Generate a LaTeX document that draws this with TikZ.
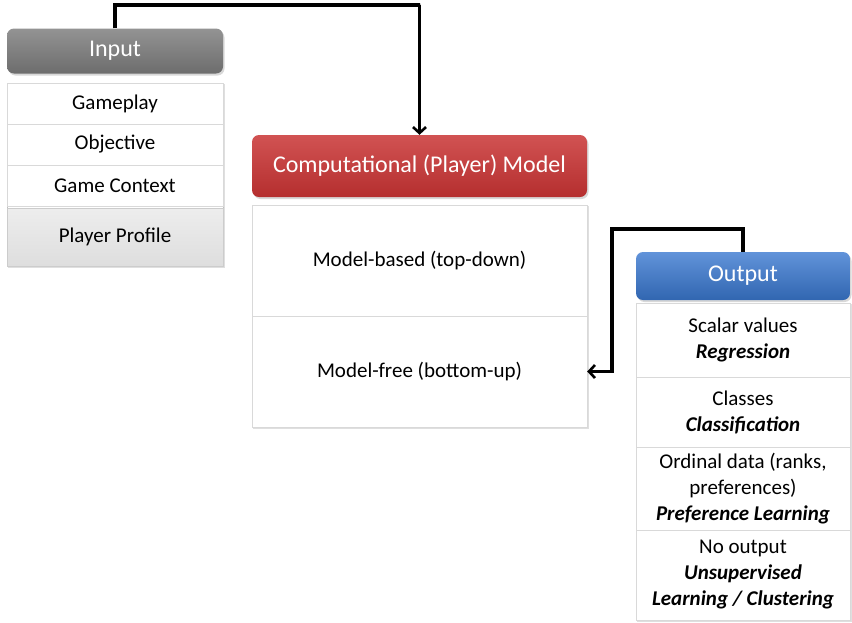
\documentclass[tikz,border=0pt]{standalone}
\usepackage{fontspec}
\setmainfont{Carlito}
\usetikzlibrary{arrows.meta,shadows,fit,backgrounds}
\definecolor{grayhead}{HTML}{808080}
\definecolor{redhead}{HTML}{C93434}
\definecolor{bluehead}{HTML}{3A78D0}
\newcommand{\headfont}{\fontsize{24}{29}\selectfont}
\newcommand{\rowfont}{\fontsize{21}{26}\selectfont}
\newcommand{\bi}[1]{\textbf{\textit{#1}}}

\begin{document}
\begin{tikzpicture}[x=1pt,y=-1pt,
  head/.style={rounded corners=7pt, text=white, font=\headfont, inner sep=0pt,
    drop shadow={shadow xshift=1.5pt, shadow yshift=-2pt, fill=black!30}},
  cell/.style={draw=black!15, fill=white, font=\rowfont, inner sep=0pt, align=center},
  panel/.style={inner sep=0pt, fill=white, draw=black!25,
    drop shadow={shadow xshift=1.5pt, shadow yshift=-1.5pt, fill=black!25}},
  link/.style={line width=3.2pt, -{Straight Barb[length=6pt,width=13pt,line width=2.6pt]}}]
\useasboundingbox (0,0) rectangle (852,622);

\node[head, top color=grayhead!85!white, bottom color=grayhead!85!black, minimum width=216pt, minimum height=45pt] (input) at (115,51) {Input};
\node[cell, minimum width=216pt, minimum height=41pt] (gameplay) at (115,103.5) {Gameplay};
\node[cell, minimum width=216pt, minimum height=41pt] (objective) at (115,144.5) {Objective};
\node[cell, minimum width=216pt, minimum height=41pt] (context) at (115,185.5) {Game Context};
\node[cell, draw=black!20, top color=black!7, bottom color=black!13, minimum width=216pt, minimum height=58pt] (profile) at (115,237) {Player Profile};

\node[head, top color=redhead!85!white, bottom color=redhead!90!black, minimum width=335pt, minimum height=62pt] (model) at (419.5,166) {Computational (Player) Model};
\node[cell, minimum width=335pt, minimum height=111pt] (based) at (419.5,260.5) {Model-based (top-down)};
\node[cell, minimum width=335pt, minimum height=111pt] (free) at (419.5,371.5) {Model-free (bottom-up)};

\node[head, top color=bluehead!80!white, bottom color=bluehead!85!black, minimum width=214pt, minimum height=48pt] (output) at (743,276) {Output};
\node[cell, minimum width=214pt, minimum height=74pt] (regression) at (743,340) {Scalar values\\\bi{Regression}};
\node[cell, minimum width=214pt, minimum height=70pt] (classification) at (743,412) {Classes\\\bi{Classification}};
\node[cell, minimum width=214pt, minimum height=83pt] (preference) at (743,488.5) {Ordinal data (ranks,\\preferences)\\\bi{Preference Learning}};
\node[cell, minimum width=214pt, minimum height=90pt] (clustering) at (743,575) {No output\\\bi{Unsupervised}\\\bi{Learning / Clustering}};

\begin{scope}[on background layer]
\node[panel, fit=(gameplay)(profile)] (inlist) {};
\node[panel, fit=(based)(free)] (modellist) {};
\node[panel, fit=(regression)(clustering)] (outlist) {};
\end{scope}

\coordinate (top) at (420,5);
\coordinate (bend) at (612,229);
\draw[link] (input.north) |- (top) -| (model.north);
\draw[link] (output.north) |- (bend) |- (free.east);
\end{tikzpicture}
\end{document}
